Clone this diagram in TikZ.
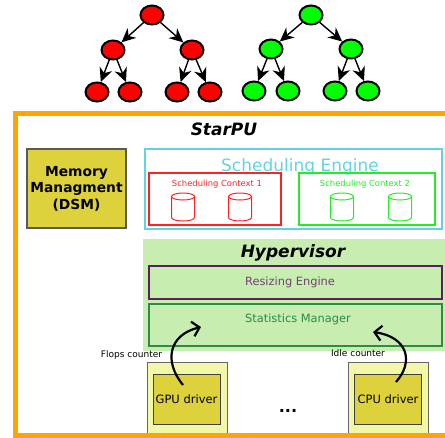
\documentclass[tikz,border=0pt]{standalone}
\usepackage{fontspec}
\setmainfont{DejaVu Sans}
\usetikzlibrary{shapes.geometric,arrows.meta}
\definecolor{FrameOrange}{HTML}{FFA500}
\definecolor{DriverYellow}{HTML}{DDD13C}
\definecolor{PaleYellow}{HTML}{F3F7A8}
\definecolor{EngineCyan}{HTML}{62D3E3}
\definecolor{CtxRed}{HTML}{FF2222}
\definecolor{CtxGreen}{HTML}{22EE22}
\definecolor{HyperGreen}{HTML}{C8EDB0}
\definecolor{ResizePurple}{HTML}{5B1F60}
\definecolor{StatGreen}{HTML}{2A8C48}
\tikzset{Tree Ball/.style={ellipse, draw=black, line width=2pt, minimum width=23, minimum height=19, inner sep=0pt},
	Tree Edge/.style={-{Stealth[length=14pt,width=13pt,inset=4.5pt]}, line width=1.4pt},
	Ctx Drum/.pic={\draw[line width=1pt, fill=white] (-11.5,-10.5) -- (-11.5,10.5)
		arc[start angle=180, end angle=0, x radius=11.5, y radius=3.5] -- (11.5,-10.5);
		\draw[line width=1pt] (0,-10.5) ellipse[x radius=11.5, y radius=3.5];},
	Driver Box/.style={draw=black!75, line width=1pt, fill=DriverYellow, minimum width=67, minimum height=50, inner sep=0pt, font=\fontsize{11.5}{14}\selectfont},
	Count Arrow/.style={-{Straight Barb[length=7pt,width=15pt]}, line width=2.2pt}}

\begin{document}
\begin{tikzpicture}[x=1pt,y=-1pt]
		\useasboundingbox (0,0) rectangle (445,437);
		\foreach \n/\x/\y in {r0/152/15,r1/113/50,r2/192/50,r3/97/92,r4/130/92,r5/177/92,r6/210/92}{%
			\node[Tree Ball, fill=red] (\n) at (\x,\y) {};
		}
		\foreach \n/\x/\y in {g0/311/15,g1/271/49,g2/351/49,g3/254/91,g4/288/91,g5/335/91,g6/368/91}{%
			\node[Tree Ball, fill=green] (\n) at (\x,\y) {};
		}
		\foreach \t in {r,g}{%
			\foreach \a/\b in {0/1,0/2,1/3,1/4,2/5,2/6}{%
				\draw[Tree Edge] (\t\a) -- (\t\b);
			}
		}
		
		\node[anchor=base, font=\bfseries\itshape\fontsize{17}{20}\selectfont] (starpu) at (224,135) {StarPU};
		\node[draw=black!65, line width=1.2pt, fill=DriverYellow, minimum width=99, minimum height=79, align=center,
		font=\bfseries\fontsize{13.8}{16.5}\selectfont] (dsm) at (76.5,188.5) {Memory\\Managment\\(DSM)};
		
		\node[draw=EngineCyan, line width=1.2pt, minimum width=297, minimum height=80] (engine) at (293.5,189) {};
		\node[anchor=base, text=EngineCyan, font=\fontsize{17}{20}\selectfont] (enginetitle) at (300,171) {Scheduling Engine};
		\node[draw=CtxRed, line width=1.2pt, minimum width=132, minimum height=52] (ctx1) at (215,199) {};
		\node[anchor=base, text=CtxRed, font=\fontsize{8.4}{10}\selectfont] (ctx1title) at (217,186) {Scheduling Context 1};
		\pic[color=CtxRed] (c1a) at (183,207) {Ctx Drum};
		\pic[color=CtxRed] (c1b) at (240,207) {Ctx Drum};
		\node[draw=CtxGreen, line width=1.2pt, minimum width=136, minimum height=52] (ctx2) at (367,199) {};
		\node[anchor=base, text=CtxGreen, font=\fontsize{8.4}{10}\selectfont] (ctx2title) at (365,186) {Scheduling Context 2};
		\pic[color=CtxGreen] (c2a) at (342,207) {Ctx Drum};
		\pic[color=CtxGreen] (c2b) at (400,207) {Ctx Drum};
		
		\node[fill=HyperGreen, minimum width=302, minimum height=112, inner sep=0pt] (hyper) at (294,295) {};
		\node[anchor=base, font=\bfseries\itshape\fontsize{17}{20}\selectfont] (hypertitle) at (293,257) {Hypervisor};
		\node[draw=ResizePurple, line width=2.5pt, minimum width=293, minimum height=33] (resize) at (295.5,282.5) {};
		\node[anchor=base, text=ResizePurple!85!white, font=\fontsize{11.4}{14}\selectfont] (resizetext) at (290,285) {Resizing Engine};
		\node[draw=StatGreen, line width=2.5pt, minimum width=293, minimum height=42] (stats) at (295.5,325) {};
		\node[anchor=base, text=StatGreen, font=\fontsize{11.4}{14}\selectfont] (statstext) at (298,322) {Statistics Manager};
		
		\node[draw=black!60, line width=0.8pt, fill=PaleYellow, minimum width=80, minimum height=83] (gpuout) at (187,403.5) {};
		\node[Driver Box] (gpu) at (186.5,399) {GPU driver};
		\node[draw=black!60, line width=0.8pt, fill=PaleYellow, minimum width=80, minimum height=83] (cpuout) at (388,403.5) {};
		\node[Driver Box] (cpu) at (388,399) {CPU driver};
		\node[anchor=base, font=\bfseries\fontsize{16}{18}\selectfont] (dots) at (288,412) {...};
		
		\node[anchor=base, font=\fontsize{9}{11}\selectfont] (flops) at (131.5,357) {Flops counter};
		\node[anchor=base, font=\fontsize{9}{11}\selectfont] (idle) at (358,356) {Idle counter};
		\coordinate (flopsFrom) at (183,385);
		\coordinate (flopsTo) at (201,327);
		\coordinate (idleFrom) at (396,382);
		\coordinate (idleTo) at (373,332);
		\draw[Count Arrow] (flopsFrom) .. controls (164,362) and (168,335) .. (flopsTo);
		\draw[Count Arrow] (idleFrom) .. controls (414,362) and (408,337) .. (idleTo);
		
		\draw[FrameOrange, line width=5pt] (15.5,113) rectangle (460,435);
	\end{tikzpicture}
\end{document}
